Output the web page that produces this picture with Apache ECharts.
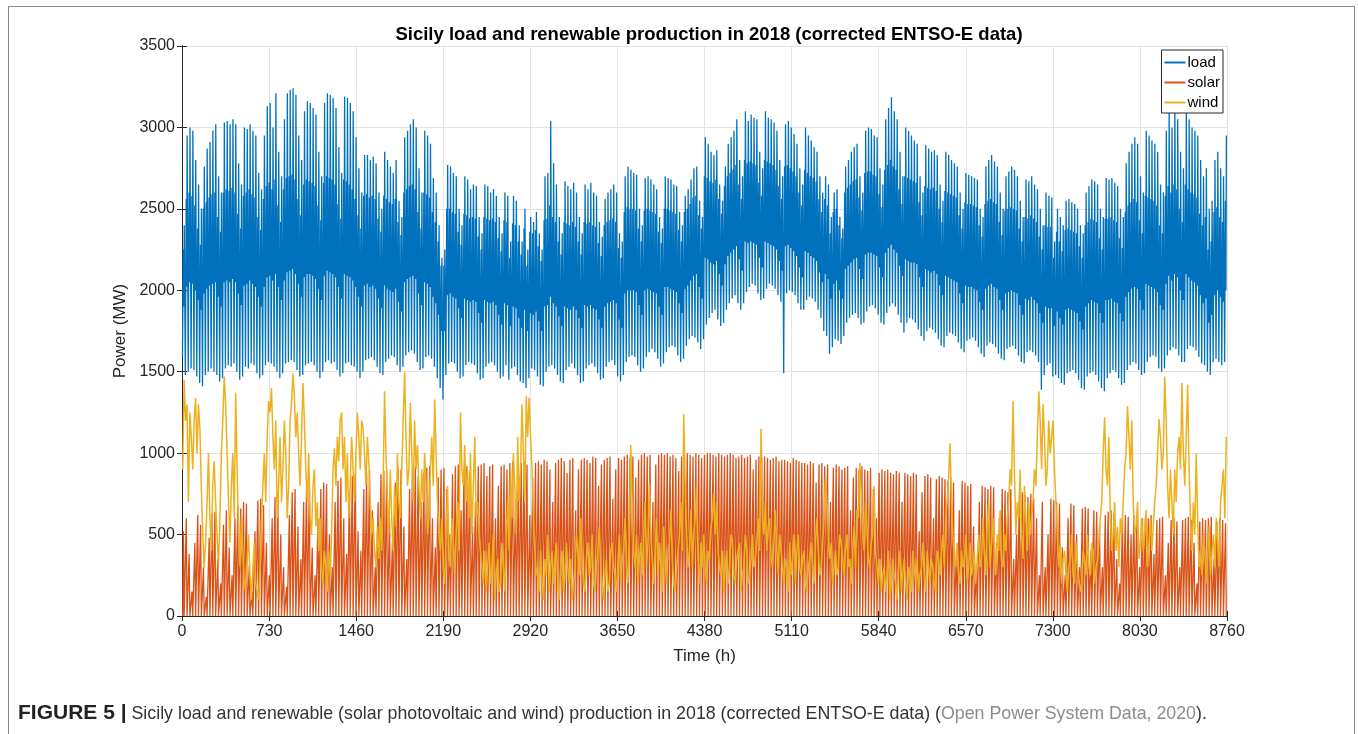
<!DOCTYPE html>
<html>
<head>
<meta charset="utf-8">
<title>Sicily load and renewable production in 2018</title>
<script src="https://cdn.jsdelivr.net/npm/echarts@6/dist/echarts.min.js"></script>
<style>
  html, body { margin: 0; padding: 0; background: #ffffff; }
  #page { position: relative; width: 1358px; height: 734px; overflow: hidden; }
  #frame { position: absolute; left: 8px; top: 6px; width: 1347px; height: 800px; border: 1.5px solid #8a8a8a; box-sizing: border-box; }
  #chart { position: absolute; left: 0; top: 0; width: 1358px; height: 734px; }
  #caption { position: absolute; left: 18px; top: 700px; font-family: "Liberation Sans", Arial, Helvetica, sans-serif; font-size: 17.8px; color: #333333; white-space: nowrap; }
  #caption b { color: #222222; font-size: 21px; }
  #caption .ref { color: #8c8c8c; }
</style>
</head>
<body>
<div id="page">
  <div id="frame"></div>
  <div id="chart"></div>
  <div id="caption"><b>FIGURE 5 |</b> Sicily load and renewable (solar photovoltaic and wind) production in 2018 (corrected ENTSO-E data) (<span class="ref">Open Power System Data, 2020</span>).</div>
</div>
<script>
// Hourly axis: one year of 8760 hours, ticks every 730 h
const xTicks = [0, 730, 1460, 2190, 2920, 3650, 4380, 5110, 5840, 6570, 7300, 8030, 8760];
const yTicks = [0, 500, 1000, 1500, 2000, 2500, 3000, 3500];

// Daily load minimum (MW) around 04:00, one row per week Mon..Sun from 1 Jan 2018
const loadMin = [
  1600, 1480, 1500, 1520, 1510, 1470, 1430,
  1410, 1480, 1500, 1520, 1500, 1480, 1440,
  1460, 1520, 1540, 1530, 1550, 1500, 1450,
  1470, 1530, 1520, 1550, 1540, 1490, 1460,
  1480, 1540, 1560, 1550, 1530, 1500, 1460,
  1490, 1550, 1560, 1570, 1560, 1510, 1470,
  1480, 1540, 1550, 1560, 1540, 1500, 1460,
  1500, 1560, 1570, 1550, 1560, 1510, 1470,
  1490, 1550, 1560, 1540, 1530, 1500, 1460,
  1500, 1570, 1580, 1590, 1570, 1530, 1490,
  1480, 1560, 1580, 1600, 1590, 1540, 1500,
  1530, 1600, 1620, 1630, 1610, 1560, 1510,
  1520, 1590, 1600, 1580, 1530, 1460, 1400,
  1330, 1480, 1550, 1560, 1550, 1500, 1460,
  1470, 1540, 1560, 1550, 1540, 1490, 1450,
  1460, 1530, 1550, 1560, 1540, 1500, 1460,
  1470, 1540, 1450, 1520, 1530, 1480, 1440,
  1430, 1400, 1460, 1520, 1510, 1470, 1420,
  1410, 1500, 1530, 1540, 1520, 1480, 1440,
  1430, 1510, 1530, 1550, 1520, 1480, 1430,
  1440, 1520, 1540, 1550, 1530, 1490, 1450,
  1460, 1530, 1560, 1570, 1540, 1470, 1440,
  1480, 1560, 1590, 1600, 1590, 1540, 1500,
  1520, 1590, 1620, 1640, 1620, 1580, 1530,
  1550, 1620, 1650, 1660, 1650, 1600, 1560,
  1580, 1660, 1700, 1720, 1710, 1680, 1640,
  1700, 1790, 1830, 1860, 1880, 1820, 1780,
  1800, 1880, 1920, 1950, 1970, 1920, 1880,
  1920, 1990, 2020, 2040, 2030, 1980, 1940,
  1950, 2010, 2040, 2030, 2010, 1970, 1930,
  1490, 1980, 2000, 1990, 1970, 1920, 1880,
  1880, 1940, 1960, 1950, 1930, 1880, 1830,
  1750, 1720, 1610, 1650, 1700, 1690, 1670,
  1720, 1800, 1830, 1850, 1860, 1830, 1790,
  1800, 1870, 1900, 1910, 1890, 1850, 1800,
  1790, 1860, 1900, 1920, 1900, 1850, 1800,
  1740, 1800, 1830, 1820, 1800, 1760, 1720,
  1690, 1750, 1770, 1760, 1740, 1700, 1660,
  1650, 1720, 1740, 1730, 1720, 1680, 1640,
  1620, 1690, 1700, 1710, 1690, 1650, 1610,
  1590, 1660, 1680, 1670, 1650, 1610, 1580,
  1570, 1640, 1650, 1660, 1640, 1600, 1560,
  1550, 1620, 1630, 1620, 1600, 1560, 1390,
  1480, 1540, 1550, 1470, 1480, 1460, 1430,
  1420, 1490, 1500, 1510, 1490, 1450, 1400,
  1390, 1470, 1490, 1500, 1480, 1440, 1400,
  1380, 1460, 1490, 1510, 1500, 1460, 1420,
  1430, 1510, 1540, 1560, 1550, 1510, 1480,
  1490, 1560, 1590, 1600, 1590, 1520, 1500,
  1520, 1600, 1630, 1650, 1640, 1600, 1560,
  1560, 1640, 1660, 1650, 1630, 1590, 1550,
  1540, 1500, 1480, 1560, 1580, 1560, 1540,
  1560
];

// Late-morning load shoulder (MW) around 11:00
const loadMorning = [
  2250, 2560, 2600, 2580, 2520, 2380, 2280,
  2500, 2540, 2570, 2590, 2600, 2450, 2360,
  2600, 2620, 2610, 2630, 2600, 2470, 2380,
  2580, 2600, 2620, 2590, 2570, 2450, 2370,
  2560, 2640, 2660, 2620, 2680, 2520, 2420,
  2620, 2690, 2700, 2710, 2680, 2560, 2460,
  2650, 2680, 2670, 2660, 2640, 2520, 2430,
  2660, 2700, 2690, 2680, 2650, 2530, 2440,
  2680, 2670, 2650, 2620, 2560, 2460, 2380,
  2580, 2590, 2570, 2580, 2560, 2440, 2360,
  2580, 2560, 2540, 2530, 2560, 2420, 2340,
  2600, 2620, 2640, 2650, 2620, 2480, 2380,
  2600, 2590, 2570, 2480, 2420, 2300, 2150,
  2150, 2500, 2500, 2480, 2470, 2360, 2280,
  2470, 2460, 2440, 2450, 2440, 2330, 2250,
  2450, 2440, 2430, 2440, 2420, 2320, 2240,
  2430, 2420, 2200, 2410, 2400, 2300, 2220,
  2380, 2150, 2360, 2350, 2370, 2270, 2180,
  2430, 2440, 2520, 2450, 2420, 2300, 2220,
  2420, 2410, 2400, 2420, 2390, 2300, 2220,
  2420, 2410, 2420, 2400, 2390, 2290, 2210,
  2400, 2420, 2430, 2440, 2420, 2260, 2200,
  2480, 2510, 2500, 2500, 2490, 2380, 2300,
  2490, 2500, 2490, 2480, 2470, 2360, 2290,
  2500, 2500, 2490, 2480, 2470, 2370, 2300,
  2480, 2500, 2530, 2570, 2580, 2460, 2380,
  2700, 2690, 2670, 2660, 2680, 2560, 2470,
  2640, 2700, 2720, 2740, 2770, 2650, 2560,
  2800, 2780, 2790, 2780, 2770, 2660, 2580,
  2800, 2790, 2780, 2770, 2740, 2640, 2560,
  2760, 2770, 2750, 2730, 2700, 2600, 2520,
  2740, 2720, 2700, 2690, 2670, 2560, 2480,
  2560, 2520, 2350, 2480, 2500, 2400, 2320,
  2600, 2630, 2650, 2670, 2680, 2570, 2490,
  2720, 2730, 2730, 2710, 2700, 2590, 2510,
  2740, 2770, 2800, 2760, 2740, 2620, 2530,
  2700, 2690, 2680, 2670, 2660, 2540, 2460,
  2640, 2630, 2620, 2630, 2610, 2500, 2420,
  2610, 2600, 2590, 2580, 2570, 2460, 2380,
  2540, 2530, 2530, 2520, 2510, 2400, 2330,
  2530, 2550, 2560, 2540, 2530, 2420, 2340,
  2490, 2500, 2510, 2500, 2490, 2380, 2300,
  2450, 2440, 2460, 2440, 2420, 2330, 2250,
  2400, 2390, 2390, 2200, 2360, 2300, 2240,
  2370, 2380, 2370, 2360, 2350, 2270, 2200,
  2400, 2420, 2440, 2430, 2420, 2320, 2250,
  2440, 2440, 2450, 2430, 2420, 2320, 2260,
  2480, 2520, 2540, 2560, 2540, 2430, 2350,
  2580, 2570, 2560, 2550, 2520, 2400, 2350,
  2580, 2640, 2600, 2650, 2620, 2500, 2420,
  2650, 2620, 2600, 2590, 2570, 2470, 2400,
  2450, 2250, 2300, 2480, 2510, 2450, 2420,
  2550
];

// Early-afternoon load dip (MW) around 15:00
const loadAfternoon = [
  1900, 2020, 2050, 2040, 2000, 1940, 1880,
  1980, 2010, 2030, 2040, 2050, 1960, 1900,
  2050, 2060, 2050, 2070, 2050, 1980, 1910,
  2030, 2040, 2060, 2040, 2020, 1960, 1900,
  2020, 2080, 2090, 2060, 2100, 2020, 1940,
  2060, 2110, 2120, 2130, 2100, 2040, 1960,
  2080, 2100, 2100, 2090, 2070, 2010, 1940,
  2090, 2120, 2110, 2100, 2080, 2020, 1950,
  2100, 2090, 2080, 2060, 2020, 1960, 1900,
  2030, 2040, 2020, 2030, 2010, 1950, 1890,
  2030, 2010, 2000, 1990, 2010, 1930, 1870,
  2050, 2070, 2080, 2090, 2070, 1980, 1910,
  2050, 2040, 2020, 1960, 1920, 1850, 1750,
  1750, 1970, 1980, 1960, 1950, 1890, 1830,
  1950, 1940, 1930, 1940, 1930, 1860, 1800,
  1940, 1930, 1920, 1930, 1910, 1850, 1790,
  1920, 1910, 1780, 1900, 1890, 1830, 1770,
  1880, 1750, 1860, 1850, 1870, 1810, 1750,
  1900, 1910, 1960, 1920, 1900, 1840, 1780,
  1900, 1890, 1880, 1900, 1880, 1830, 1770,
  1910, 1900, 1910, 1890, 1880, 1820, 1770,
  1900, 1920, 1930, 1940, 1920, 1820, 1770,
  1980, 2000, 2000, 2000, 1990, 1910, 1850,
  2000, 2010, 2000, 1990, 1980, 1900, 1850,
  2020, 2020, 2010, 2000, 1990, 1920, 1860,
  2010, 2030, 2060, 2090, 2100, 2020, 1950,
  2200, 2190, 2170, 2160, 2180, 2100, 2030,
  2160, 2210, 2230, 2250, 2270, 2190, 2120,
  2300, 2290, 2300, 2290, 2280, 2200, 2140,
  2300, 2290, 2280, 2270, 2250, 2180, 2120,
  2270, 2280, 2260, 2240, 2210, 2140, 2080,
  2240, 2230, 2210, 2200, 2180, 2110, 2050,
  2100, 2070, 1950, 2040, 2060, 2000, 1950,
  2130, 2150, 2170, 2190, 2200, 2130, 2070,
  2220, 2230, 2230, 2220, 2210, 2140, 2080,
  2230, 2260, 2280, 2250, 2230, 2150, 2090,
  2190, 2180, 2170, 2170, 2160, 2080, 2020,
  2130, 2120, 2110, 2120, 2100, 2030, 1970,
  2090, 2080, 2070, 2060, 2050, 1980, 1920,
  2030, 2020, 2020, 2010, 2000, 1930, 1880,
  2010, 2030, 2040, 2020, 2010, 1940, 1880,
  1980, 1990, 2000, 1990, 1980, 1910, 1850,
  1950, 1940, 1960, 1940, 1920, 1860, 1800,
  1900, 1890, 1890, 1780, 1870, 1830, 1790,
  1880, 1890, 1880, 1870, 1860, 1810, 1760,
  1900, 1920, 1940, 1930, 1920, 1860, 1800,
  1940, 1940, 1950, 1930, 1920, 1860, 1810,
  1960, 1990, 2010, 2020, 2010, 1940, 1880,
  2040, 2030, 2020, 2010, 1990, 1910, 1880,
  2040, 2090, 2060, 2100, 2080, 2000, 1940,
  2100, 2080, 2060, 2050, 2030, 1970, 1920,
  1950, 1800, 1850, 1970, 2000, 1960, 1930,
  2000
];

// Daily evening load peak (MW) around 19:00
const loadMax = [
  2400, 2950, 3000, 2980, 2800, 2650, 2500,
  2760, 2870, 2910, 2980, 3020, 2700, 2600,
  3030, 3040, 3020, 3050, 3020, 2780, 2650,
  3000, 2990, 3020, 2980, 2950, 2720, 2620,
  2950, 3130, 3150, 3000, 3210, 2850, 2700,
  3050, 3210, 3230, 3240, 3200, 2950, 2800,
  3100, 3160, 3150, 3120, 3080, 2850, 2700,
  3150, 3210, 3200, 3180, 3120, 2880, 2720,
  3190, 3180, 3150, 3100, 2940, 2750, 2600,
  2830, 2830, 2800, 2820, 2780, 2600, 2500,
  2850, 2800, 2760, 2720, 2800, 2550, 2450,
  2940, 2980, 3020, 3050, 3000, 2750, 2600,
  2980, 2950, 2900, 2690, 2600, 2400, 2200,
  2250, 2770, 2760, 2720, 2700, 2500, 2400,
  2700, 2680, 2620, 2650, 2640, 2450, 2350,
  2650, 2640, 2600, 2620, 2580, 2450, 2350,
  2600, 2580, 2300, 2580, 2550, 2400, 2300,
  2500, 2250, 2450, 2420, 2480, 2350, 2250,
  2700, 2720, 3040, 2780, 2650, 2450, 2350,
  2670, 2640, 2620, 2660, 2600, 2450, 2350,
  2650, 2620, 2660, 2600, 2580, 2420, 2330,
  2560, 2600, 2620, 2650, 2600, 2350, 2300,
  2700, 2760, 2740, 2720, 2710, 2500, 2400,
  2690, 2700, 2680, 2650, 2620, 2450, 2380,
  2700, 2690, 2680, 2650, 2640, 2480, 2400,
  2580, 2620, 2680, 2750, 2760, 2550, 2450,
  2940, 2900, 2850, 2830, 2860, 2650, 2550,
  2760, 2900, 2940, 2980, 3050, 2800, 2700,
  3100, 3040, 3080, 3060, 3050, 2850, 2750,
  3100, 3060, 3050, 3030, 2980, 2800, 2700,
  3020, 3040, 3000, 2960, 2900, 2750, 2650,
  3000, 2950, 2920, 2880, 2850, 2700, 2600,
  2700, 2650, 2450, 2600, 2620, 2450, 2380,
  2760, 2800, 2850, 2880, 2900, 2700, 2600,
  2980, 3000, 2990, 2950, 2940, 2750, 2650,
  3050, 3120, 3185, 3100, 3050, 2850, 2700,
  3000, 2980, 2950, 2920, 2900, 2700, 2600,
  2890, 2870, 2850, 2860, 2830, 2650, 2550,
  2850, 2830, 2800, 2780, 2760, 2600, 2500,
  2720, 2710, 2700, 2690, 2680, 2500, 2450,
  2760, 2800, 2830, 2790, 2760, 2600, 2500,
  2700, 2730, 2760, 2740, 2700, 2550, 2450,
  2680, 2670, 2700, 2650, 2620, 2500, 2400,
  2600, 2580, 2570, 2300, 2500, 2450, 2400,
  2550, 2560, 2540, 2530, 2500, 2400, 2350,
  2600, 2640, 2680, 2670, 2650, 2500, 2450,
  2690, 2680, 2690, 2660, 2640, 2500, 2450,
  2780, 2850, 2900, 2940, 2900, 2700, 2600,
  2980, 2950, 2920, 2900, 2850, 2650, 2600,
  2980, 3100, 3000, 3120, 3050, 2850, 2750,
  3120, 3050, 3000, 2980, 2950, 2800, 2700,
  2750, 2500, 2550, 2800, 2850, 2750, 2700,
  2950
];

// Daily solar photovoltaic peak at midday (MW)
const solarPeak = [
  520, 600, 380, 150, 450, 620, 560,
  300, 120, 480, 630, 640, 350, 200,
  560, 650, 420, 250, 600, 680, 660,
  700, 690, 310, 150, 520, 710, 720,
  680, 450, 250, 600, 730, 740, 500,
  300, 180, 620, 760, 780, 550, 350,
  700, 790, 800, 420, 250, 600, 780,
  820, 810, 500, 300, 700, 830, 850,
  600, 380, 760, 860, 870, 520, 400,
  780, 880, 890, 650, 300, 700, 870,
  890, 900, 600, 450, 820, 910, 900,
  550, 350, 780, 900, 920, 860, 700,
  880, 910, 920, 600, 420, 850, 900,
  910, 780, 500, 870, 920, 930, 650,
  900, 920, 880, 550, 700, 920, 930,
  940, 860, 920, 930, 600, 800, 920,
  930, 900, 940, 950, 720, 880, 940,
  950, 930, 620, 850, 940, 950, 930,
  960, 950, 900, 700, 940, 960, 970,
  950, 880, 960, 970, 650, 900, 960,
  970, 960, 940, 980, 970, 800, 930,
  960, 970, 980, 720, 900, 970, 960,
  980, 990, 970, 980, 850, 960, 990,
  1000, 980, 990, 700, 930, 990, 1000,
  990, 1000, 980, 990, 970, 890, 980,
  990, 1000, 990, 980, 1000, 990, 970,
  990, 1000, 1000, 990, 980, 1000, 990,
  980, 990, 1000, 990, 970, 980, 990,
  970, 980, 990, 900, 960, 980, 970,
  980, 970, 960, 970, 980, 950, 960,
  960, 950, 940, 970, 960, 950, 940,
  940, 930, 950, 940, 820, 930, 940,
  920, 930, 700, 910, 930, 920, 900,
  910, 920, 650, 850, 910, 900, 920,
  900, 890, 910, 780, 600, 880, 900,
  890, 900, 880, 870, 890, 880, 700,
  880, 870, 860, 880, 870, 520, 760,
  860, 870, 850, 600, 840, 860, 850,
  840, 830, 850, 820, 400, 650, 830,
  820, 800, 810, 550, 300, 700, 800,
  790, 780, 800, 790, 450, 600, 780,
  770, 760, 780, 350, 500, 750, 760,
  740, 730, 750, 720, 600, 250, 700,
  300, 500, 720, 710, 700, 690, 420,
  250, 600, 690, 680, 500, 300, 660,
  670, 660, 400, 650, 640, 560, 300,
  620, 640, 650, 630, 350, 200, 600,
  620, 610, 500, 620, 610, 300, 600,
  610, 600, 620, 380, 590, 600, 610,
  250, 450, 590, 600, 580, 300, 590,
  600, 610, 590, 450, 200, 580, 600,
  590, 600, 610, 350, 580, 600, 590,
  570
];

// Wind production every 12 hours (MW), one row per week
const wind = [
  900, 1450, 1200, 1300, 700, 1250, 1100, 900, 1200, 1340, 1000, 1300, 1150, 800,
  500, 300, 450, 700, 1000, 600, 400, 800, 950, 700, 500, 300, 600, 1000,
  1200, 1470, 1300, 1000, 700, 450, 800, 1000, 600, 1370, 900, 500, 300, 600,
  400, 200, 150, 350, 500, 250, 100, 300, 450, 200, 150, 100, 300, 600,
  800, 1000, 700, 1100, 1320, 1250, 1400, 1100, 900, 1200, 600, 800, 1100, 700,
  900, 1200, 1000, 600, 800, 1200, 1300, 1490, 1350, 1100, 1250, 1000, 800, 1100,
  1430, 1200, 900, 700, 1000, 600, 500, 800, 900, 550, 700, 400, 600, 300,
  200, 400, 300, 150, 400, 250, 500, 900, 1030, 800, 1100, 950, 1200, 1250,
  900, 1100, 700, 1000, 600, 800, 1100, 900, 700, 1000, 1250, 1100, 900, 1200,
  1160, 1000, 800, 1100, 950, 700, 500, 600, 400, 300, 550, 350, 600, 400,
  800, 1380, 1000, 700, 500, 900, 600, 400, 800, 550, 1000, 700, 600, 900,
  1200, 1500, 1100, 800, 900, 1310, 1000, 700, 1200, 900, 1050, 800, 600, 900,
  700, 1000, 800, 500, 600, 900, 1100, 800, 1330, 1000, 700, 500, 400, 600,
  300, 200, 500, 800, 400, 300, 600, 450, 250, 500, 700, 400, 1250, 900,
  800, 1050, 700, 900, 600, 1000, 500, 800, 1100, 600, 700, 500, 400, 300,
  200, 400, 150, 300, 450, 200, 300, 500, 100, 250, 350, 150, 200, 450,
  300, 150, 500, 700, 400, 900, 600, 1000, 800, 500, 1100, 700, 900, 1300,
  1000, 700, 1350, 1100, 1340, 1100, 900, 600, 400, 250, 300, 150, 400, 200,
  100, 350, 250, 500, 150, 300, 400, 200, 350, 450, 200, 100, 300, 400,
  150, 250, 450, 300, 200, 350, 100, 200, 300, 500, 400, 250, 600, 350,
  200, 150, 350, 450, 250, 300, 500, 200, 150, 300, 400, 550, 300, 200,
  100, 250, 350, 150, 200, 400, 450, 300, 250, 150, 300, 500, 200, 350,
  400, 600, 300, 200, 500, 1050, 700, 400, 300, 500, 200, 350, 450, 250,
  500, 700, 300, 450, 820, 500, 350, 200, 400, 600, 250, 450, 300, 150,
  550, 350, 200, 400, 450, 650, 350, 200, 150, 300, 400, 500, 700, 400,
  1240, 800, 500, 300, 400, 650, 300, 500, 600, 800, 350, 200, 450, 300,
  500, 300, 200, 400, 350, 550, 600, 750, 500, 700, 400, 300, 250, 400,
  150, 300, 400, 200, 300, 500, 450, 250, 200, 350, 350, 450, 150, 250,
  300, 500, 400, 200, 250, 350, 500, 300, 350, 450, 600, 400, 1150, 600,
  500, 700, 400, 550, 600, 350, 300, 450, 650, 400, 250, 500, 400, 300,
  200, 350, 300, 150, 450, 250, 350, 500, 200, 400, 500, 300, 250, 350,
  400, 200, 150, 300, 350, 450, 300, 200, 450, 600, 400, 250, 300, 450,
  600, 850, 700, 500, 350, 450, 200, 300, 400, 250, 300, 500, 450, 350,
  250, 400, 500, 300, 350, 200, 400, 550, 300, 650, 600, 940, 750, 500,
  400, 700, 550, 350, 300, 450, 500, 800, 400, 300, 200, 350, 150, 250,
  300, 150, 250, 400, 100, 200, 350, 250, 200, 100, 300, 400, 150, 250,
  350, 200, 100, 300, 250, 150, 400, 300, 200, 350, 150, 250, 300, 450,
  250, 150, 400, 300, 200, 350, 300, 200, 150, 400, 350, 250, 400, 500,
  300, 600, 700, 850, 1060, 700, 500, 350, 300, 450, 250, 200, 400, 300,
  350, 500, 200, 300, 450, 250, 300, 400, 200, 350, 500, 300, 350, 600,
  400, 250, 550, 700, 300, 450, 600, 400, 250, 500, 400, 650, 350, 300,
  500, 400, 600, 700, 900, 800, 1320, 900, 500, 700, 600, 900, 500, 350,
  800, 600, 400, 700, 500, 600, 700, 900, 800, 1100, 1380, 1200, 900, 1300,
  1100, 800, 900, 1200, 1000, 1100, 1200, 900, 700, 500, 300, 450, 200, 350,
  400, 250, 150, 300, 350, 500, 250, 200, 450, 300, 300, 150, 200, 400,
  350, 250, 500, 300, 250, 450, 400, 200, 300, 350, 450, 600, 700, 1000,
  1220, 900, 800, 1100, 600, 400, 500, 700, 400, 550, 300, 600, 500, 700,
  900, 1000, 1290, 1100, 900, 1200, 700, 500, 550, 700, 350, 450, 600, 400,
  500, 650, 300, 450, 600, 400, 550, 700, 800, 1000, 1210, 1100, 900, 1000,
  1470, 1200, 800, 600, 900, 700, 500, 900, 700, 1000, 1100, 900, 1430, 1000,
  800, 1100, 1420, 900, 600, 400, 700, 500, 1000, 600, 300, 400, 250, 500,
  400, 200, 350, 550, 250, 400, 500, 300, 600, 450, 300, 700, 800, 900,
  600, 1100
];

// Build [hour, MW] pairs from the arrays above
const loadData = [];
for (let d = 0; d < loadMax.length; d++) {
  loadData.push([d * 24 + 4, loadMin[d]]);
  loadData.push([d * 24 + 11, loadMorning[d]]);
  loadData.push([d * 24 + 15, loadAfternoon[d]]);
  loadData.push([d * 24 + 19, loadMax[d]]);
}
const solarData = [];
for (let d = 0; d < solarPeak.length; d++) {
  solarData.push([d * 24 + 6, 0]);
  solarData.push([d * 24 + 12, solarPeak[d]]);
  solarData.push([d * 24 + 18, 0]);
}
const windData = wind.map((v, i) => [i * 12 + 6, v]);

const FONT = '"Liberation Sans", Arial, Helvetica, sans-serif';
const AXIS = '#262626';
const plain = v => String(v);

const chart = echarts.init(document.getElementById('chart'), null, { renderer: 'canvas' });

const baseX = {
  type: 'value', min: xTicks[0], max: xTicks[xTicks.length - 1], interval: xTicks[1] - xTicks[0]
};
const baseY = {
  type: 'value', min: yTicks[0], max: yTicks[yTicks.length - 1], interval: yTicks[1] - yTicks[0]
};

chart.setOption({
  animation: false,
  backgroundColor: 'transparent',
  title: {
    text: 'Sicily load and renewable production in 2018 (corrected ENTSO-E data)',
    left: 704, top: 20, textAlign: 'center',
    textStyle: { fontFamily: FONT, fontSize: 18.5, fontWeight: 'bold', color: '#000000' }
  },
  grid: { left: 182, top: 46, width: 1045, height: 570, containLabel: false },
  legend: {
    data: ['load', 'solar', 'wind'],
    orient: 'vertical',
    right: 135, top: 50,
    itemWidth: 21, itemHeight: 2, itemGap: 5,
    padding: [5, 3, 3, 3],
    backgroundColor: '#ffffff',
    borderColor: AXIS, borderWidth: 1, borderRadius: 0,
    textStyle: { fontFamily: FONT, fontSize: 15, color: '#000000', padding: [0, 0, 0, -3] },
    icon: 'rect'
  },
  xAxis: [
    Object.assign({}, baseX, {
      position: 'bottom',
      name: 'Time (h)', nameLocation: 'middle', nameGap: 32,
      nameTextStyle: { fontFamily: FONT, fontSize: 17, color: AXIS },
      axisLine: { show: true, lineStyle: { color: AXIS, width: 1 } },
      axisTick: { show: true, inside: true, length: 5, lineStyle: { color: AXIS } },
      axisLabel: { fontFamily: FONT, fontSize: 16, color: AXIS, margin: 8, formatter: plain },
      splitLine: { show: true, lineStyle: { color: '#e3e3e3', width: 1 } }
    }),
    Object.assign({}, baseX, {
      position: 'top',
      axisLine: { show: true, lineStyle: { color: AXIS, width: 1 } },
      axisTick: { show: true, inside: true, length: 5, lineStyle: { color: AXIS } },
      axisLabel: { show: false },
      splitLine: { show: false }
    })
  ],
  yAxis: [
    Object.assign({}, baseY, {
      position: 'left',
      name: 'Power (MW)', nameLocation: 'middle', nameGap: 37, nameRotate: 90,
      nameTextStyle: { fontFamily: FONT, fontSize: 17, color: AXIS },
      axisLine: { show: true, lineStyle: { color: AXIS, width: 1 } },
      axisTick: { show: true, inside: true, length: 5, lineStyle: { color: AXIS } },
      axisLabel: { fontFamily: FONT, fontSize: 16, color: AXIS, margin: 7, formatter: plain },
      splitLine: { show: true, lineStyle: { color: '#e3e3e3', width: 1 } }
    }),
    Object.assign({}, baseY, {
      position: 'right',
      axisLine: { show: true, lineStyle: { color: AXIS, width: 1 } },
      axisTick: { show: true, inside: true, length: 5, lineStyle: { color: AXIS } },
      axisLabel: { show: false },
      splitLine: { show: false }
    })
  ],
  series: [
    {
      name: 'load', type: 'line', data: loadData, showSymbol: false, symbol: 'none',
      color: '#0072BD', lineStyle: { width: 1.3, color: '#0072BD' }, silent: true
    },
    {
      name: 'solar', type: 'line', data: solarData, showSymbol: false, symbol: 'none',
      color: '#D95319', lineStyle: { width: 1.3, color: '#D95319' }, silent: true
    },
    {
      name: 'wind', type: 'line', data: windData, showSymbol: false, symbol: 'none',
      color: '#EDB120', lineStyle: { width: 1.5, color: '#EDB120' }, silent: true
    }
  ]
});
</script>
</body>
</html>
